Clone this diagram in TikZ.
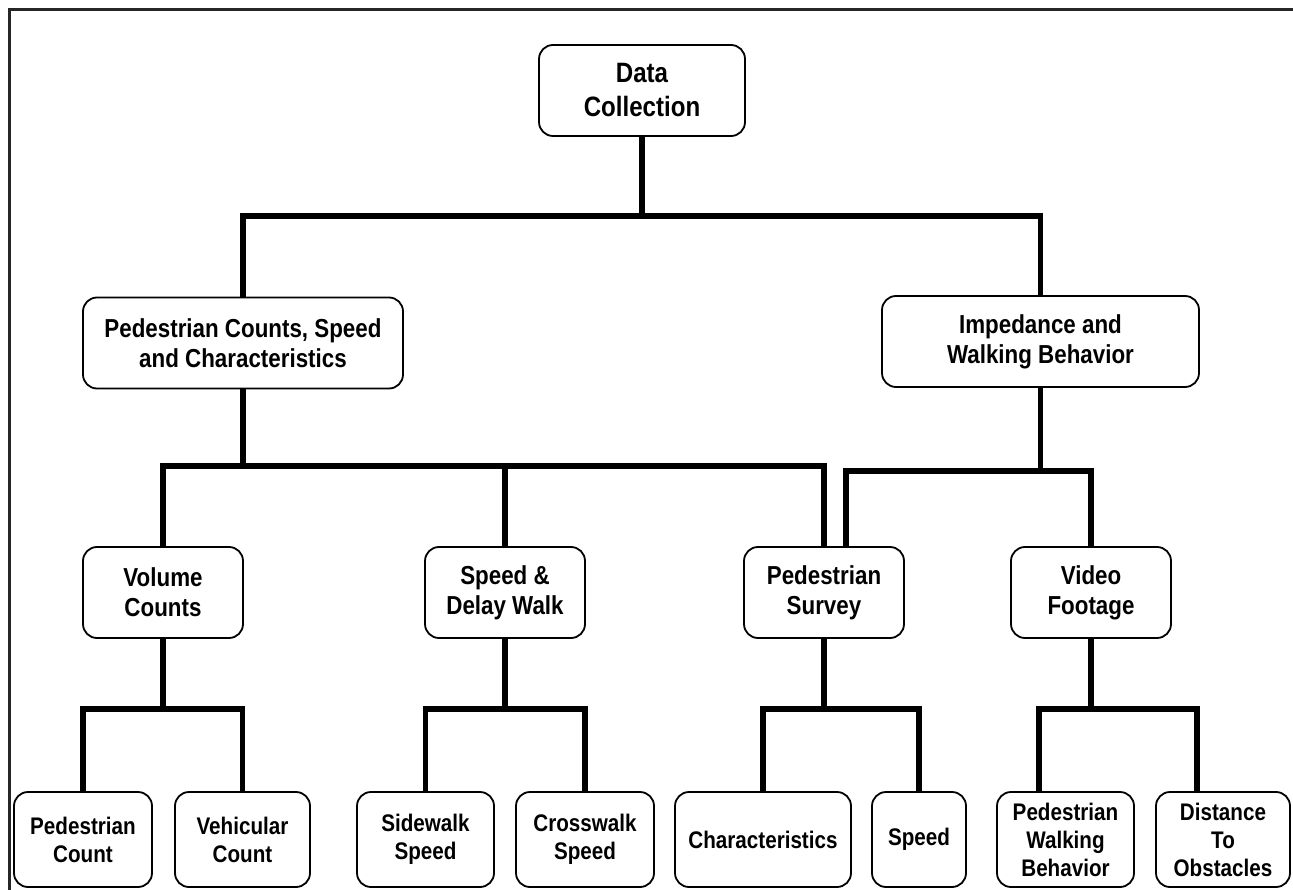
\documentclass[tikz,border=0pt]{standalone}
\usepackage{fontspec}
\setmainfont{Liberation Sans}[FakeStretch=0.86]
\usetikzlibrary{backgrounds}
\begin{document}
\begin{tikzpicture}[x=1pt,y=-1pt,
  box/.style={draw=black, line width=1.8pt, rounded corners=14pt, fill=white,
    align=center, inner sep=0pt, font=\fontsize{24}{28}\selectfont\bfseries},
  big/.style={font=\fontsize{28}{34}\selectfont\bfseries},
  mid/.style={font=\fontsize{26}{30}\selectfont\bfseries},
  conn/.style={line width=5.5pt, line join=miter}]
\clip (0,0) rectangle (1293,890);
\useasboundingbox (0,0) rectangle (1293,890);

% coordinates of bars
\coordinate (b1) at (0,216);
\coordinate (b2) at (0,466);
\coordinate (b3) at (0,471);
\coordinate (b4) at (0,709);

% nodes
\node[box, big, minimum width=206pt, minimum height=91pt] (DC) at (642,90.5) {Data\\Collection};
\node[box, mid, minimum width=320pt, minimum height=91pt] (PC) at (243,343) {Pedestrian Counts, Speed\\and Characteristics};
\node[box, mid, minimum width=317pt, minimum height=91pt] (IW) at (1040.5,341.5) {Impedance and\\Walking Behavior};
\node[box, mid, minimum width=160pt, minimum height=91pt] (VC) at (163,592.5) {Volume\\Counts};
\node[box, mid, minimum width=160pt, minimum height=91pt] (SD) at (505,592.5) {Speed \&\\Delay Walk};
\node[box, mid, minimum width=160pt, minimum height=91pt] (PS) at (824,592.5) {Pedestrian\\Survey};
\node[box, mid, minimum width=160pt, minimum height=91pt] (VF) at (1091,592.5) {Video\\Footage};
\node[box, minimum width=138pt, minimum height=95pt] (PCN) at (83,839.5) {Pedestrian\\Count};
\node[box, minimum width=135pt, minimum height=95pt] (VCN) at (242.5,839.5) {Vehicular\\Count};
\node[box, minimum width=137pt, minimum height=95pt] (SWS) at (425.5,839.5) {Sidewalk\\Speed};
\node[box, minimum width=138pt, minimum height=95pt] (CWS) at (585,839.5) {Crosswalk\\Speed};
\node[box, minimum width=176pt, minimum height=95pt] (CH) at (763,839.5) {Characteristics};
\node[box, minimum width=94pt, minimum height=95pt] (SP) at (919,839.5) {Speed};
\node[box, minimum width=137pt, minimum height=95pt] (PWB) at (1065.5,839.5) {Pedestrian\\Walking\\Behavior};
\node[box, minimum width=134pt, minimum height=95pt] (DTO) at (1223,839.5) {Distance\\To\\Obstacles};

\begin{scope}[on background layer]
\draw[line width=3pt, black!85] (9.5,9.5) rectangle (1330,930);
% level 1
\draw[conn] (DC.south) -- (DC.south |- b1);
\draw[conn] (PC.north) -- (PC.north |- b1) -- (IW.north |- b1) -- (IW.north);
% level 2 left
\draw[conn] (PC.south) -- (PC.south |- b2);
\draw[conn] (VC.north) -- (VC.north |- b2) -- ([xshift=81pt]PS.north west |- b2) -- ([xshift=81pt]PS.north west);
\draw[conn] (SD.north) -- (SD.north |- b2);
% level 2 right
\draw[conn] (IW.south) -- (IW.south |- b3);
\draw[conn] ([xshift=103pt]PS.north west) -- ([xshift=103pt]PS.north west |- b3) -- (VF.north |- b3) -- (VF.north);
% level 3
\draw[conn] (VC.south) -- (VC.south |- b4);
\draw[conn] (PCN.north) -- (PCN.north |- b4) -- (VCN.north |- b4) -- (VCN.north);
\draw[conn] (SD.south) -- (SD.south |- b4);
\draw[conn] (SWS.north) -- (SWS.north |- b4) -- (CWS.north |- b4) -- (CWS.north);
\draw[conn] (PS.south) -- (PS.south |- b4);
\draw[conn] (CH.north) -- (CH.north |- b4) -- (SP.north |- b4) -- (SP.north);
\draw[conn] (VF.south) -- (VF.south |- b4);
\draw[conn] ([xshift=43pt]PWB.north west) -- ([xshift=43pt]PWB.north west |- b4) -- ([xshift=42pt]DTO.north west |- b4) -- ([xshift=42pt]DTO.north west);
\end{scope}
\end{tikzpicture}
\end{document}
